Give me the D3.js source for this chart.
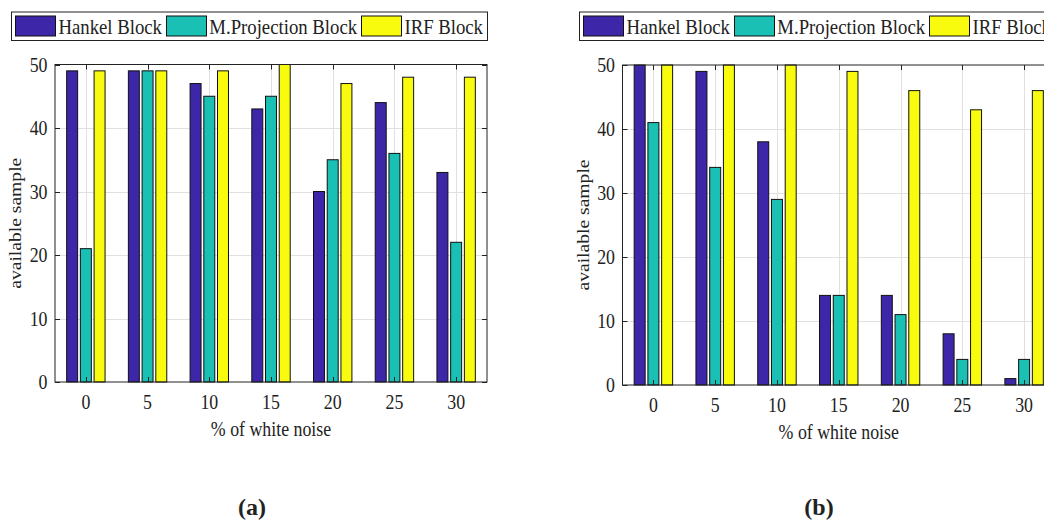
<!DOCTYPE html>
<html>
<head>
<meta charset="utf-8">
<script src="https://cdn.jsdelivr.net/npm/d3@7"></script>
<style>
  html, body { margin: 0; padding: 0; background: #fff; overflow: hidden; }
  svg { display: block; font-family: "Liberation Serif", "Times New Roman", serif; }
</style>
</head>
<body>
<svg id="fig" width="1044" height="521"></svg>
<script>
// Noise levels on the x axis and the three detection blocks
const noiseLevels = [0, 5, 10, 15, 20, 25, 30];
const seriesNames = ["Hankel Block", "M.Projection Block", "IRF Block"];
const seriesColors = ["#3e26a8", "#1ac0b4", "#f9fb0e"];
const yTicks = [0, 10, 20, 30, 40, 50];

// Panel (a): available samples per block
const hankelA = [49, 49, 47, 43, 30, 44, 33];
const projectionA = [21, 49, 45, 45, 35, 36, 22];
const irfA = [49, 49, 49, 50, 47, 48, 48];

// Panel (b): available samples per block
const hankelB = [50, 49, 38, 14, 14, 8, 1];
const projectionB = [41, 34, 29, 14, 11, 4, 4];
const irfB = [50, 50, 50, 49, 46, 43, 46];

const SX = 0.87;          // horizontal squeeze of the serif lettering
const INK = "#222";
const GRID = "#e0e0e0";

const svg = d3.select("#fig");

function label(g, x, y, str, o = {}) {
  const sx = o.sx || SX;
  return g.append("text")
    .attr("transform", `translate(${x},${y}) scale(${sx},1)` + (o.rotate ? ` rotate(${o.rotate})` : ""))
    .attr("text-anchor", o.anchor || "middle")
    .attr("font-size", o.size || 20)
    .attr("font-weight", o.weight || "normal")
    .attr("fill", o.fill || INK)
    .text(str);
}

function drawPanel(cfg) {
  const { left, right, top, bottom, values, tag, tagX } = cfg;
  const g = svg.append("g");

  const x = d3.scaleBand().domain(noiseLevels).range([left, right]).paddingInner(0).paddingOuter(0);
  const groupW = x.step() * (3 / 4.5);
  const xs = d3.scaleBand().domain(seriesNames)
    .range([(x.step() - groupW) / 2, (x.step() + groupW) / 2])
    .paddingInner(0.2).paddingOuter(0.1);
  const y = d3.scaleLinear().domain([0, 50]).range([bottom, top]);
  const cxOf = n => Math.round(x(n) + x.bandwidth() / 2) + 0.5;

  // grid
  const grid = g.append("g").attr("stroke", GRID).attr("stroke-width", 1);
  grid.selectAll("line.gy").data(yTicks.slice(1, -1)).join("line")
    .attr("x1", left).attr("x2", right)
    .attr("y1", d => Math.round(y(d)) + 0.5).attr("y2", d => Math.round(y(d)) + 0.5);
  grid.selectAll("line.gx").data(noiseLevels).join("line")
    .attr("y1", top).attr("y2", bottom)
    .attr("x1", cxOf).attr("x2", cxOf);

  // bars
  const rows = [];
  noiseLevels.forEach((n, i) => seriesNames.forEach((s, k) => rows.push({ n, s, k, v: values[k][i] })));
  g.append("g").selectAll("rect").data(rows).join("rect")
    .attr("x", d => x(d.n) + xs(d.s))
    .attr("width", xs.bandwidth())
    .attr("y", d => y(d.v))
    .attr("height", d => y(0) - y(d.v))
    .attr("fill", d => seriesColors[d.k])
    .attr("stroke", "#111")
    .attr("stroke-width", 1);

  // axes box and inward ticks
  const ax = g.append("g").attr("stroke", INK).attr("stroke-width", 1).attr("fill", "none");
  ax.append("rect").attr("x", left).attr("y", top).attr("width", right - left).attr("height", bottom - top);
  const tl = 5;
  noiseLevels.forEach(n => {
    const cx = cxOf(n);
    ax.append("line").attr("x1", cx).attr("x2", cx).attr("y1", bottom).attr("y2", bottom - tl);
    ax.append("line").attr("x1", cx).attr("x2", cx).attr("y1", top).attr("y2", top + tl);
  });
  yTicks.forEach(t => {
    const cy = Math.round(y(t)) + 0.5;
    ax.append("line").attr("x1", left).attr("x2", left + tl).attr("y1", cy).attr("y2", cy);
    ax.append("line").attr("x1", right).attr("x2", right - tl).attr("y1", cy).attr("y2", cy);
  });

  // tick labels
  yTicks.forEach(t => label(g, left - 7.5, y(t) + 7, t, { anchor: "end", size: 20.5 }));
  noiseLevels.forEach(n => label(g, x(n) + x.bandwidth() / 2, bottom + 27, n, { size: 20.5 }));

  // axis titles
  label(g, (left + right) / 2, bottom + 54, "% of white noise", { size: 20.5 });
  label(g, left - 34, (top + bottom) / 2, "available sample", { rotate: -90, size: 19.6 });

  // panel tag
  label(g, tagX, 515, tag, { weight: "bold", size: 24, sx: 1 });

  // legend, right-aligned to the axes box
  const lg = g.append("g");
  const LS = 21, LSX = 0.893;
  const sw = 40, sh = 20, gapText = 3.3, gapItem = 4, pad = 4, padR = 4;
  const probe = lg.append("g");
  const widths = seriesNames.map(s =>
    label(probe, 0, 0, s, { anchor: "start", size: LS, sx: LSX }).node().getComputedTextLength() * LSX);
  probe.remove();
  const total = pad + d3.sum(widths, w => sw + gapText + w) + gapItem * (seriesNames.length - 1) + padR;
  const lx = right - total, ly = 11.5, lh = 28.5;
  lg.append("rect").attr("x", Math.round(lx) + 0.5).attr("y", ly + 0.5)
    .attr("width", Math.round(total)).attr("height", lh)
    .attr("fill", "#fff").attr("stroke", INK).attr("stroke-width", 1);
  let cx = lx + pad;
  seriesNames.forEach((s, k) => {
    lg.append("rect").attr("x", Math.round(cx) + 0.5).attr("y", ly + 4.5).attr("width", sw).attr("height", sh)
      .attr("fill", seriesColors[k]).attr("stroke", "#111").attr("stroke-width", 1);
    label(lg, cx + sw + gapText, ly + 22.8, s, { anchor: "start", size: LS, sx: LSX });
    cx += sw + gapText + widths[k] + gapItem;
  });
}

drawPanel({ left: 55, right: 487, top: 64.5, bottom: 382,
  values: [hankelA, projectionA, irfA], tag: "(a)", tagX: 252 });
drawPanel({ left: 622.5, right: 1055, top: 65, bottom: 385,
  values: [hankelB, projectionB, irfB], tag: "(b)", tagX: 819 });
</script>
</body>
</html>
